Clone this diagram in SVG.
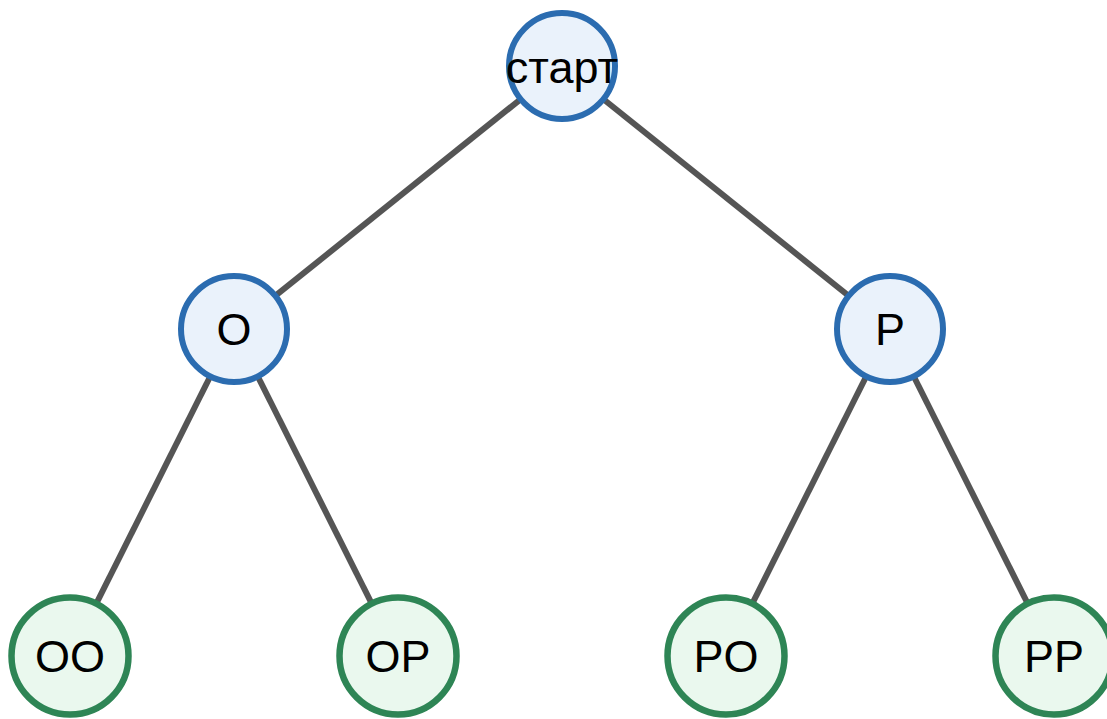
<svg xmlns="http://www.w3.org/2000/svg" width="1107" height="719" viewBox="0 0 1107 719">
  <style>
    .edge { stroke: #555555; stroke-width: 6; fill: none; }
    .inner circle { fill: #eaf2fb; stroke: #2b6cb0; stroke-width: 6; }
    .leaf circle { fill: #eaf8ee; stroke: #2e8555; stroke-width: 6.5; }
    text { font-family: "Liberation Sans", Arial, sans-serif; font-size: 45px; fill: #000000; text-anchor: middle; }
  </style>
  <rect width="1107" height="719" fill="#ffffff"/>
  <g id="connectors">
    <line class="edge" x1="562" y1="66" x2="234" y2="329"/>
    <line class="edge" x1="562" y1="66" x2="890" y2="329"/>
    <line class="edge" x1="234" y1="329" x2="70" y2="656"/>
    <line class="edge" x1="234" y1="329" x2="398" y2="656"/>
    <line class="edge" x1="890" y1="329" x2="726" y2="656"/>
    <line class="edge" x1="890" y1="329" x2="1054" y2="656"/>
  </g>
  <g id="start" class="inner">
    <circle cx="562" cy="66" r="53"/>
    <text x="562" y="83">старт</text>
  </g>
  <g id="O" class="inner">
    <circle cx="234" cy="329" r="53"/>
    <text x="234" y="345">O</text>
  </g>
  <g id="P" class="inner">
    <circle cx="890" cy="329" r="53"/>
    <text x="890" y="345">P</text>
  </g>
  <g id="OO" class="leaf">
    <circle cx="70" cy="656" r="58.5"/>
    <text x="70" y="672">OO</text>
  </g>
  <g id="OP" class="leaf">
    <circle cx="398" cy="656" r="58.5"/>
    <text x="398" y="672">OP</text>
  </g>
  <g id="PO" class="leaf">
    <circle cx="726" cy="656" r="58.5"/>
    <text x="726" y="672">PO</text>
  </g>
  <g id="PP" class="leaf">
    <circle cx="1054" cy="656" r="58.5"/>
    <text x="1054" y="672">PP</text>
  </g>
</svg>
